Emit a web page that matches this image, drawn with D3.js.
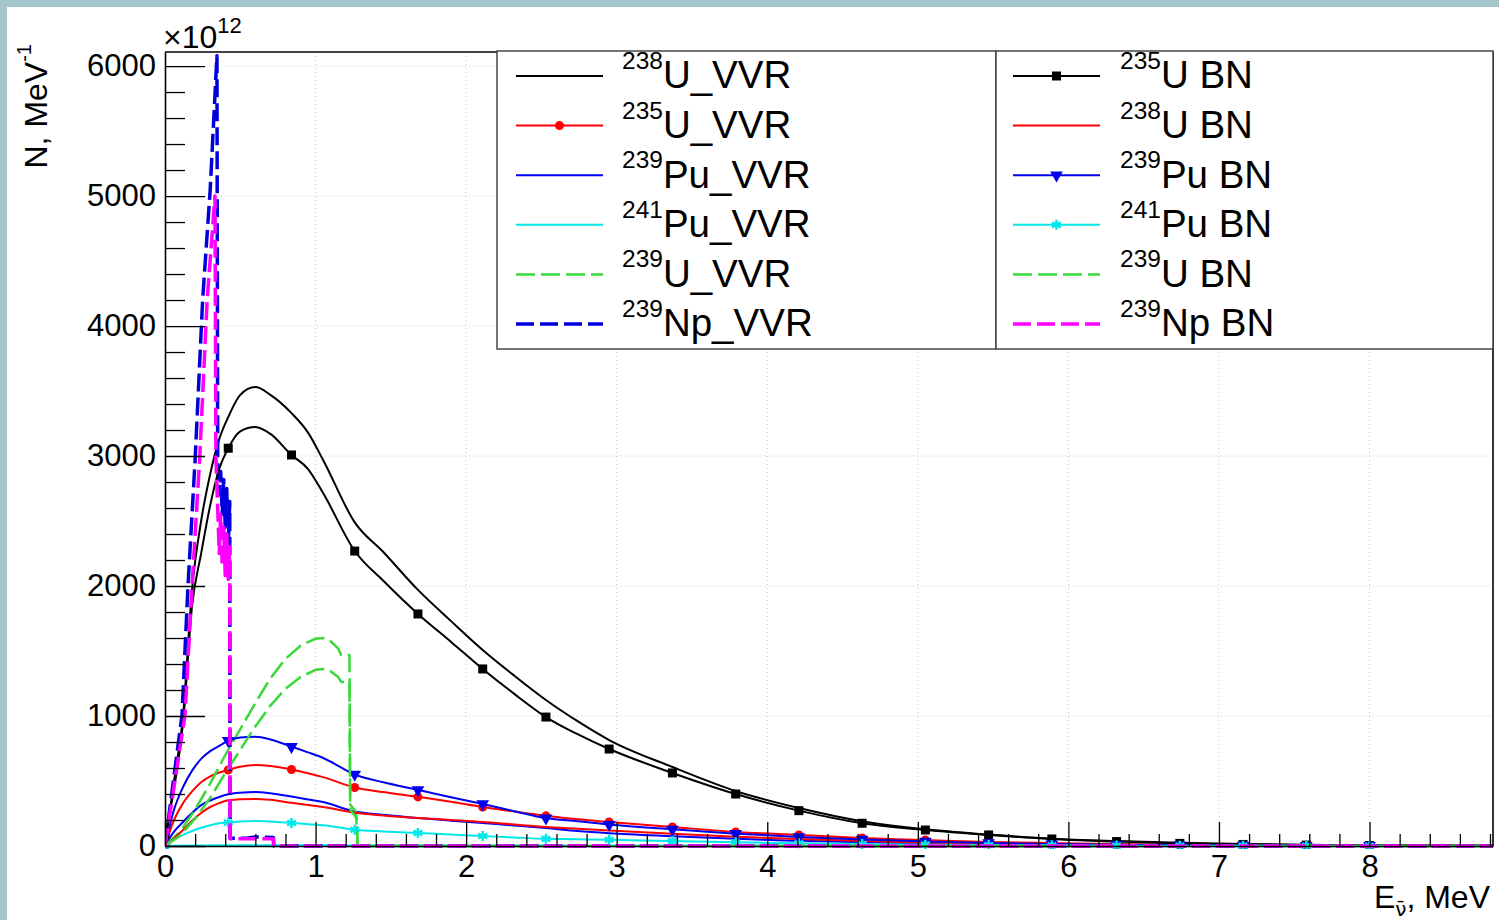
<!DOCTYPE html>
<html>
<head>
<meta charset="utf-8">
<script src="https://cdn.jsdelivr.net/npm/d3@7"></script>
<style>
  body { margin: 0; background: #ffffff; }
  svg { display: block; font-family: "Liberation Sans", Arial, sans-serif; }
</style>
</head>
<body>
<svg id="chart" width="1499" height="920"></svg>
<script>
// Energy grid (MeV) shared by the smooth reactor spectra
const energy_grid = [0, 0.06, 0.12, 0.18, 0.24, 0.3, 0.36, 0.42, 0.5, 0.6, 0.7, 0.84, 0.95, 1.05, 1.26, 1.45, 1.68, 1.9, 2.11, 2.32, 2.53, 2.74, 2.95, 3.37, 3.79, 4.21, 4.63, 5.05, 5.47, 5.89, 6.32, 6.74, 7.16, 7.58, 8.0, 8.4, 8.82];

// Spectra in units of 1e12 per MeV, one value per grid energy
const u238_vvr  = [0, 500, 1008, 1980, 2500, 2860, 3130, 3300, 3470, 3530, 3470, 3330, 3180, 2970, 2490, 2262, 1970, 1730, 1508, 1310, 1123, 960, 815, 608, 423, 292, 190, 128, 88, 56, 38, 25, 16, 10, 6, 3, 2];
const u235_vvr  = [0, 200, 330, 420, 490, 535, 565, 585, 610, 623, 615, 588, 560, 530, 450, 415, 378, 340, 300, 265, 232, 205, 185, 146, 108, 85, 62, 46, 31, 23, 15, 10, 7, 5, 3, 2, 1];
const pu239_vvr = [0, 110, 185, 255, 315, 350, 377, 398, 410, 415, 405, 380, 358, 338, 265, 240, 215, 195, 177, 157, 138, 115, 98, 75, 55, 40, 28, 19, 13, 9, 6, 4, 3, 2, 1, 1, 0];
const pu241_vvr = [0, 2, 3, 4, 4, 5, 5, 5, 5, 5, 5, 5, 5, 5, 4, 4, 4, 3, 3, 3, 3, 2, 2, 2, 1, 1, 1, 1, 0, 0, 0, 0, 0, 0, 0, 0, 0];
const u235_bn   = [90, 440, 950, 1850, 2250, 2620, 2900, 3060, 3190, 3223, 3170, 3008, 2900, 2715, 2269, 2040, 1785, 1570, 1362, 1170, 992, 860, 746, 562, 400, 272, 175, 123, 85, 54, 34, 20, 12, 7, 4, 2, 1];
const u238_bn   = [0, 60, 123, 195, 254, 300, 330, 352, 360, 362, 355, 332, 315, 300, 256, 235, 215, 200, 185, 165, 146, 133, 120, 95, 72, 54, 38, 27, 18, 12, 8, 5, 3, 2, 1, 1, 0];
const pu239_bn  = [0, 280, 454, 580, 670, 730, 770, 810, 835, 840, 820, 765, 720, 677, 550, 490, 432, 375, 323, 268, 215, 190, 165, 128, 95, 70, 50, 35, 23, 15, 10, 6, 4, 3, 2, 1, 1];
const pu241_bn  = [0, 50, 85, 115, 140, 160, 175, 180, 188, 192, 188, 177, 168, 160, 125, 112, 100, 88, 77, 65, 55, 52, 48, 38, 28, 21, 15, 10, 7, 5, 3, 2, 1, 1, 1, 0, 0];

// Energies where a marker is drawn on the marked series
const marker_energies = [0, 0.42, 0.84, 1.26, 1.68, 2.11, 2.53, 2.95, 3.37, 3.79, 4.21, 4.63, 5.05, 5.47, 5.89, 6.32, 6.74, 7.16, 7.58, 8.0];

// Short-lived isotopes, [E, N] pairs (these have sharp cut-offs)
const u239_vvr_points = [[0, 0], [0.1, 110], [0.2, 280], [0.3, 480], [0.4, 700], [0.5, 900], [0.6, 1100], [0.7, 1290], [0.8, 1440], [0.9, 1540], [1.0, 1595], [1.05, 1600], [1.1, 1575], [1.15, 1520], [1.17, 1470], [1.225, 1470], [1.23, 320], [1.27, 260], [1.28, 0], [8.82, 0]];
const u239_bn_points  = [[0, 0], [0.1, 80], [0.2, 210], [0.3, 370], [0.4, 560], [0.5, 740], [0.6, 920], [0.7, 1080], [0.8, 1210], [0.9, 1300], [1.0, 1355], [1.05, 1362], [1.1, 1345], [1.15, 1300], [1.17, 1262], [1.225, 1262], [1.23, 280], [1.27, 220], [1.28, 0], [8.82, 0]];
const np239_vvr_points = [[0, 0], [0.05, 450], [0.113, 1008], [0.153, 2008], [0.2, 2970], [0.25, 4200], [0.3, 5046], [0.345, 6080], [0.35, 2950], [0.36, 2700], [0.37, 2880], [0.38, 2550], [0.39, 2820], [0.4, 2450], [0.41, 2750], [0.42, 2300], [0.43, 2650], [0.432, 60], [0.54, 60], [0.6, 70], [0.72, 65], [0.722, 0], [8.82, 0]];
const np239_bn_points  = [[0, 0], [0.05, 380], [0.133, 1008], [0.18, 2008], [0.23, 2970], [0.28, 4200], [0.332, 5000], [0.338, 3000], [0.35, 2600], [0.36, 2250], [0.37, 2550], [0.38, 2150], [0.39, 2450], [0.4, 2080], [0.41, 2400], [0.42, 2050], [0.43, 2300], [0.432, 55], [0.54, 55], [0.72, 55], [0.722, 0], [8.82, 0]];

const x_major_ticks = [0, 1, 2, 3, 4, 5, 6, 7, 8];
const y_major_ticks = [0, 1000, 2000, 3000, 4000, 5000, 6000];
const x_max = 8.82;
const y_max = 6108;

function on_grid(values) {
    return energy_grid.map((e, i) => [e, values[i]]);
}

// Series in draw order, first six go in the left legend, last six in the right
const series_list = [
    { sup: "238", name: "U_VVR",  data: on_grid(u238_vvr),  color: "#000000", width: 2,   dash: null,   marker: null,       smooth: true },
    { sup: "235", name: "U_VVR",  data: on_grid(u235_vvr),  color: "#ff0000", width: 2,   dash: null,   marker: "circle",   smooth: true },
    { sup: "239", name: "Pu_VVR", data: on_grid(pu239_vvr), color: "#0000ff", width: 2,   dash: null,   marker: null,       smooth: true },
    { sup: "241", name: "Pu_VVR", data: on_grid(pu241_vvr), color: "#00e8e8", width: 2,   dash: null,   marker: null,       smooth: true },
    { sup: "239", name: "U_VVR",  data: u239_vvr_points,    color: "#3ad83a", width: 2.5, dash: "19,6", marker: null,       smooth: false },
    { sup: "239", name: "Np_VVR", data: np239_vvr_points,   color: "#0000dd", width: 3.5, dash: "18,6", marker: null,       smooth: false },
    { sup: "235", name: "U BN",   data: on_grid(u235_bn),   color: "#000000", width: 2,   dash: null,   marker: "square",   smooth: true },
    { sup: "238", name: "U BN",   data: on_grid(u238_bn),   color: "#ff0000", width: 2,   dash: null,   marker: null,       smooth: true },
    { sup: "239", name: "Pu BN",  data: on_grid(pu239_bn),  color: "#0000ee", width: 2,   dash: null,   marker: "triangle", smooth: true },
    { sup: "241", name: "Pu BN",  data: on_grid(pu241_bn),  color: "#00e8e8", width: 2,   dash: null,   marker: "asterisk", smooth: true },
    { sup: "239", name: "U BN",   data: u239_bn_points,     color: "#3ad83a", width: 2.5, dash: "19,6", marker: null,       smooth: false },
    { sup: "239", name: "Np BN",  data: np239_bn_points,    color: "#ff00ff", width: 3.5, dash: "18,6", marker: null,       smooth: false }
];

const svg = d3.select("#chart");
const plot_left = 165, plot_right = 1493, plot_top = 52, plot_bottom = 846;

const x = d3.scaleLinear().domain([0, x_max]).range([plot_left, plot_right]);
const y = d3.scaleLinear().domain([0, y_max]).range([plot_bottom, plot_top]);

// Teal page border strips
svg.append("rect").attr("x", 0).attr("y", 0).attr("width", 1499).attr("height", 7).attr("fill", "#a4c5ca");
svg.append("rect").attr("x", 0).attr("y", 0).attr("width", 7).attr("height", 920).attr("fill", "#a4c5ca");

// Dotted grid at the major ticks
const grid = svg.append("g").attr("stroke", "#c8c8c8").attr("stroke-width", 1).attr("stroke-dasharray", "1,3");
grid.selectAll(".gx").data(x_major_ticks.slice(1)).enter().append("line")
    .attr("x1", d => x(d)).attr("x2", d => x(d)).attr("y1", plot_top).attr("y2", plot_bottom);
grid.selectAll(".gy").data(y_major_ticks.slice(1)).enter().append("line")
    .attr("x1", plot_left).attr("x2", plot_right).attr("y1", d => y(d)).attr("y2", d => y(d));

// Curves, clipped to the frame
svg.append("clipPath").attr("id", "plot-clip").append("rect")
    .attr("x", plot_left).attr("y", plot_top).attr("width", plot_right - plot_left).attr("height", plot_bottom - plot_top + 3);
const plot = svg.append("g").attr("clip-path", "url(#plot-clip)");

const smooth_line = d3.line().x(d => x(d[0])).y(d => y(d[1])).curve(d3.curveMonotoneX);
const sharp_line = d3.line().x(d => x(d[0])).y(d => y(d[1]));

function marker_path(kind) {
    if (kind === "circle") return d3.symbol(d3.symbolCircle, 64)();
    if (kind === "square") return d3.symbol(d3.symbolSquare, 81)();
    if (kind === "triangle") return d3.symbol(d3.symbolTriangle, 70)();
    return d3.symbol(d3.symbolAsterisk, 70)();
}

function draw_marker(group, kind, color, px, py) {
    const m = group.append("path")
        .attr("d", marker_path(kind))
        .attr("transform", "translate(" + px + "," + py + ")" + (kind === "triangle" ? " rotate(180)" : ""))
        .attr("fill", color);
    if (kind === "asterisk") m.attr("stroke", color).attr("stroke-width", 2.5);
}

series_list.forEach(s => {
    plot.append("path")
        .datum(s.data)
        .attr("d", s.smooth ? smooth_line : sharp_line)
        .attr("fill", "none")
        .attr("stroke", s.color)
        .attr("stroke-width", s.width)
        .attr("stroke-dasharray", s.dash)
        .attr("stroke-linejoin", "round");
    if (s.marker) {
        s.data.filter(d => marker_energies.includes(d[0])).forEach(d => {
            draw_marker(plot, s.marker, s.color, x(d[0]), y(d[1]));
        });
    }
});

// Axes with ROOT style inside ticks
const x_minor = d3.range(0, 8.81, 0.2).filter(v => Math.abs(v - Math.round(v)) > 1e-6);
const y_minor = d3.range(0, 6101, 200).filter(v => v % 1000 !== 0);

svg.append("g").attr("transform", "translate(0," + plot_bottom + ")")
    .call(d3.axisBottom(x).tickValues(x_minor).tickSize(-12).tickSizeOuter(0).tickFormat(""))
    .call(g => g.select(".domain").remove());
const x_axis = svg.append("g").attr("transform", "translate(0," + plot_bottom + ")")
    .call(d3.axisBottom(x).tickValues(x_major_ticks).tickSize(-24).tickSizeOuter(0).tickPadding(9).tickFormat(d3.format("d")));

svg.append("g").attr("transform", "translate(" + plot_left + ",0)")
    .call(d3.axisLeft(y).tickValues(y_minor).tickSize(-20).tickSizeOuter(0).tickFormat(""))
    .call(g => g.select(".domain").remove());
const y_axis = svg.append("g").attr("transform", "translate(" + plot_left + ",0)")
    .call(d3.axisLeft(y).tickValues(y_major_ticks).tickSize(-40).tickSizeOuter(0).tickPadding(9).tickFormat(d3.format("d")));

svg.selectAll(".tick line").attr("stroke", "#000").attr("stroke-width", 1.3);
[x_axis, y_axis].forEach(a => {
    a.select(".domain").attr("stroke", "#000").attr("stroke-width", 1.6);
    a.selectAll("text").attr("font-family", "Liberation Sans, Arial, sans-serif").attr("font-size", 31).attr("fill", "#000");
});

// Frame top and right
svg.append("line").attr("x1", plot_left).attr("x2", plot_right).attr("y1", plot_top).attr("y2", plot_top).attr("stroke", "#000").attr("stroke-width", 1.6);
svg.append("line").attr("x1", plot_right).attr("x2", plot_right).attr("y1", plot_top).attr("y2", plot_bottom).attr("stroke", "#000").attr("stroke-width", 1.6);

// Exponent above the y axis
const exponent = svg.append("text").attr("x", 163).attr("y", 48).attr("font-size", 32);
exponent.append("tspan").text("\u00d710");
exponent.append("tspan").attr("font-size", 22).attr("dy", -15).text("12");

// Axis titles
const y_title = svg.append("text")
    .attr("transform", "translate(47,44) rotate(-90)")
    .attr("text-anchor", "end")
    .attr("font-size", 32);
y_title.append("tspan").text("N, MeV");
y_title.append("tspan").attr("font-size", 20).attr("dy", -16).text("-1");

const x_title = svg.append("text")
    .attr("x", 1490).attr("y", 908)
    .attr("text-anchor", "end")
    .attr("font-size", 32);
x_title.append("tspan").text("E");
x_title.append("tspan").attr("font-size", 20).attr("dy", 8).attr("font-family", "DejaVu Sans").text("\u03bd\u0304");
x_title.append("tspan").attr("dy", -8).text(", MeV");

// Legends: two boxes, six entries each
const legend_boxes = [
    { x: 497, w: 499, line_x: 516, text_x: 622 },
    { x: 996, w: 497, line_x: 1013, text_x: 1120 }
];
legend_boxes.forEach((box, b) => {
    const lg = svg.append("g");
    lg.append("rect").attr("x", box.x).attr("y", 51).attr("width", box.w).attr("height", 298)
        .attr("fill", "#fff").attr("stroke", "#3a3a3a").attr("stroke-width", 1.4);
    series_list.slice(b * 6, b * 6 + 6).forEach((s, i) => {
        const cy = 76 + i * 49.6;
        lg.append("line")
            .attr("x1", box.line_x).attr("x2", box.line_x + 87).attr("y1", cy).attr("y2", cy)
            .attr("stroke", s.color).attr("stroke-width", s.width).attr("stroke-dasharray", s.dash);
        if (s.marker) draw_marker(lg, s.marker, s.color, box.line_x + 43.5, cy);
        const label = lg.append("text").attr("x", box.text_x).attr("y", cy - 7).attr("font-size", 24.5);
        label.append("tspan").text(s.sup);
        label.append("tspan").attr("font-size", 38.5).attr("dy", 19.3).text(s.name);
    });
});
</script>
</body>
</html>
